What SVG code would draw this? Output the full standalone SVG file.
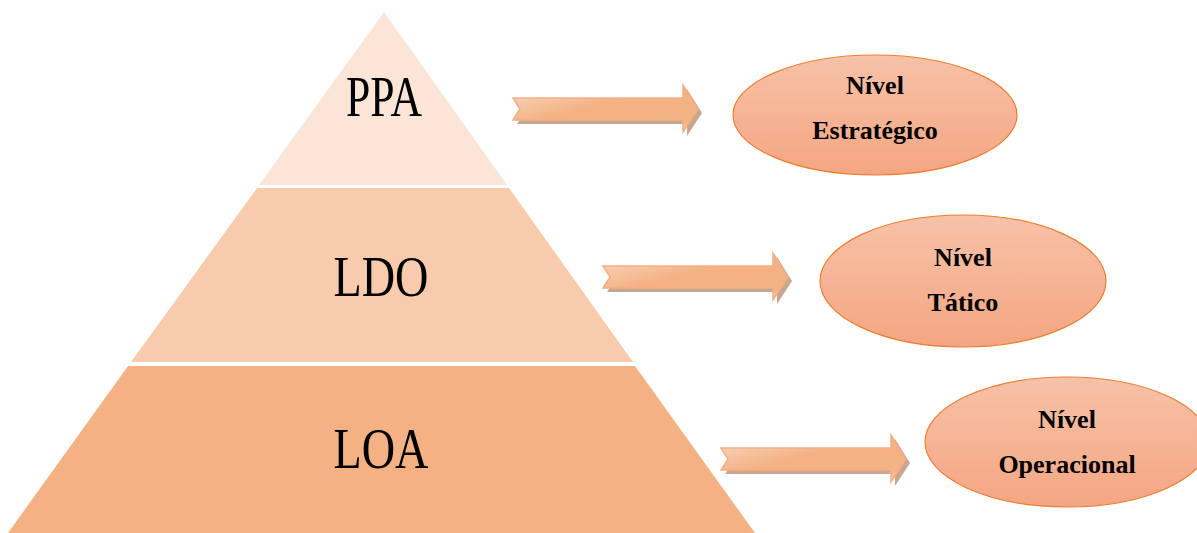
<svg xmlns="http://www.w3.org/2000/svg" width="1197" height="533" viewBox="0 0 1197 533">
<defs>
<linearGradient id="arrowGrad" x1="0" y1="0" x2="1" y2="1">
<stop offset="0" stop-color="#F9DCC9"/>
<stop offset="0.45" stop-color="#F4B183"/>
<stop offset="0.85" stop-color="#F4B385"/>
<stop offset="1" stop-color="#F7CCAF"/>
</linearGradient>
<linearGradient id="ellGrad" x1="0" y1="0" x2="0" y2="1">
<stop offset="0" stop-color="#F7C2A8"/>
<stop offset="1" stop-color="#F4A682"/>
</linearGradient>
<path id="arrowShape" d="M0,13 L170,13 L170,0 L185,24 L170,47 L170,35 L0,35 L7,24 Z"/>
</defs>
<style>
.lvl{font-family:"Liberation Serif","Times New Roman",serif;font-size:57px;fill:#000;text-anchor:middle}
.ell{fill:url(#ellGrad);stroke:#ED7D31;stroke-width:1.2}
.etxt{font-family:"Liberation Serif","Times New Roman",serif;font-weight:bold;font-size:26px;fill:#000;text-anchor:middle}
.arrow{fill:url(#arrowGrad);stroke:#F2AE85;stroke-width:1.5}
.shadow{fill:#C9A68E}
</style>
<rect width="1197" height="533" fill="#FFFFFF"/>
<g id="pyramid-top">
<polygon points="384,12 507,185 259,185" fill="#FBE5D6"/>
<text class="lvl" x="384" y="116" textLength="76" lengthAdjust="spacingAndGlyphs">PPA</text>
</g>
<g id="pyramid-middle">
<polygon points="257,188 509,188 633,362 131,362" fill="#F8CBAD"/>
<text class="lvl" x="381" y="296" textLength="95" lengthAdjust="spacingAndGlyphs">LDO</text>
</g>
<g id="pyramid-bottom">
<polygon points="128,366 635,366 755,533 8,533" fill="#F4B183"/>
<text class="lvl" x="381" y="468" textLength="95" lengthAdjust="spacingAndGlyphs">LOA</text>
</g>
<g id="connectors">
<use href="#arrowShape" class="shadow" transform="translate(517,89)"/>
<use href="#arrowShape" class="arrow" transform="translate(513,85)"/>
<use href="#arrowShape" class="shadow" transform="translate(607,257)"/>
<use href="#arrowShape" class="arrow" transform="translate(603,253)"/>
<use href="#arrowShape" class="shadow" transform="translate(725,439)"/>
<use href="#arrowShape" class="arrow" transform="translate(721,435)"/>
</g>
<g id="nivel-estrategico">
<ellipse class="ell" cx="875" cy="115" rx="142" ry="60"/>
<text class="etxt" x="875" y="94">Nível</text>
<text class="etxt" x="875" y="139">Estratégico</text>
</g>
<g id="nivel-tatico">
<ellipse class="ell" cx="963" cy="281" rx="143" ry="66"/>
<text class="etxt" x="963" y="266">Nível</text>
<text class="etxt" x="963" y="311">Tático</text>
</g>
<g id="nivel-operacional">
<ellipse class="ell" cx="1067" cy="442" rx="142" ry="65"/>
<text class="etxt" x="1067" y="428">Nível</text>
<text class="etxt" x="1067" y="473">Operacional</text>
</g>
</svg>
